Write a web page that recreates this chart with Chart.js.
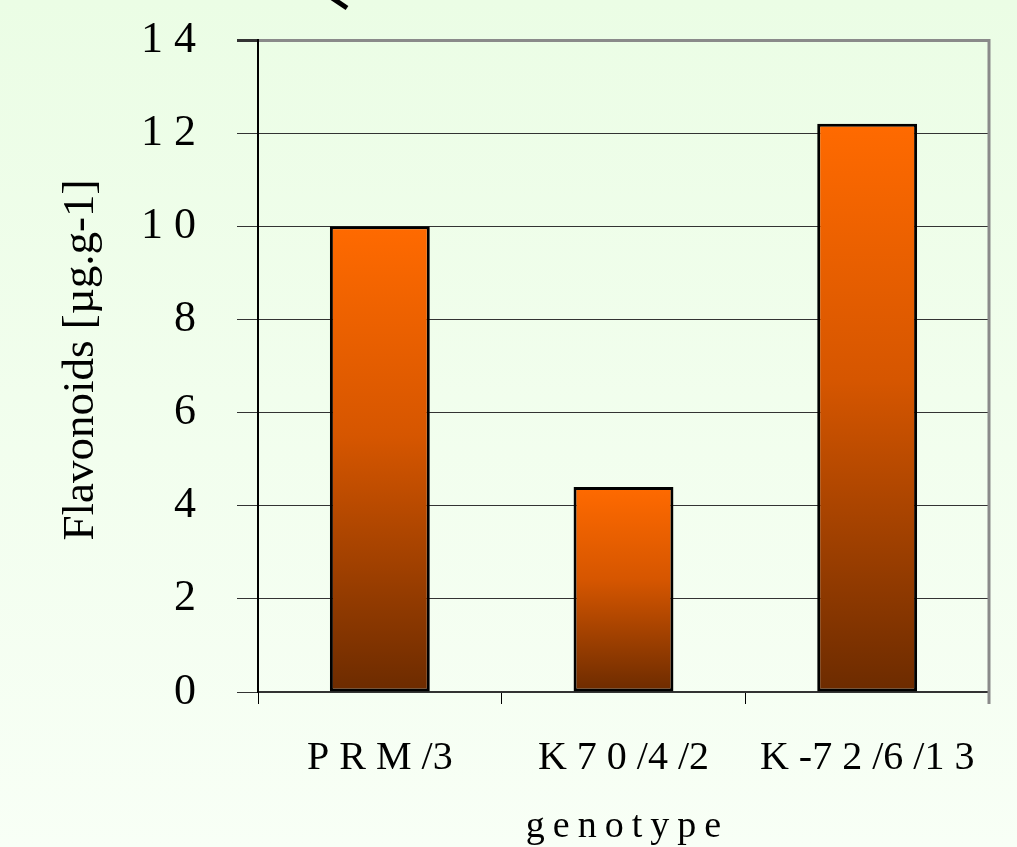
<!DOCTYPE html>
<html>
<head>
<meta charset="utf-8">
<script src="https://cdn.jsdelivr.net/npm/chart.js@4.4.1/dist/chart.umd.min.js"></script>
<style>
  html, body { margin: 0; padding: 0; }
  body { width: 1017px; height: 847px; background: linear-gradient(#ebfde5, #f8fff6); overflow: hidden; }
  #wrap { width: 1017px; height: 847px; position: relative; }
</style>
</head>
<body>
<div id="wrap"><canvas id="chart"></canvas></div>
<script>
// datos del grafico
const genotypes = ["P R M /3", "K 7 0 /4 /2", "K -7 2 /6 /1 3"];
const flavonoids = [10.0, 4.4, 12.2];
const yTickLabels = ["0", "2", "4", "6", "8", "1 0", "1 2", "1 4"];
const yTitle = "Flavonoids [µg.g-1]";
const xTitle = "genotype";

const serif = "'Liberation Serif', 'Times New Roman', serif";

// degradado naranja -> marron para cada barra
function barGradient(context) {
    const chart = context.chart;
    const area = chart.chartArea;
    if (!area || context.dataIndex === undefined) return "#e05a00";
    const yScale = chart.scales.y;
    const top = yScale.getPixelForValue(flavonoids[context.dataIndex]);
    const g = chart.ctx.createLinearGradient(0, top, 0, area.bottom);
    g.addColorStop(0, "#ff6a00");
    g.addColorStop(0.45, "#d65600");
    g.addColorStop(1, "#6c2b00");
    return g;
}

// titulos de ejes, borde derecho y marca superior
const extras = {
    id: "extras",
    afterDraw(chart) {
        const ctx = chart.ctx;
        const a = chart.chartArea;
        ctx.save();
        ctx.strokeStyle = "#8a8a8a";
        ctx.lineWidth = 3;
        ctx.beginPath();
        ctx.moveTo(a.right, a.top - 1);
        ctx.lineTo(a.right, a.bottom + 12);
        ctx.stroke();

        ctx.strokeStyle = "#000";
        ctx.lineWidth = 5;
        ctx.beginPath();
        ctx.moveTo(332, -2);
        ctx.lineTo(347, 8);
        ctx.stroke();

        ctx.fillStyle = "#000";
        ctx.font = "45px " + serif;
        ctx.textAlign = "center";
        ctx.textBaseline = "alphabetic";
        ctx.translate(93, 360);
        ctx.rotate(-Math.PI / 2);
        ctx.fillText(yTitle, 0, 0);
        ctx.restore();

        ctx.save();
        ctx.fillStyle = "#000";
        ctx.font = "38px " + serif;
        ctx.letterSpacing = "8px";
        ctx.textAlign = "center";
        ctx.textBaseline = "alphabetic";
        ctx.fillText(xTitle, (a.left + a.right) / 2 + 4, 837);
        ctx.restore();
    }
};

new Chart(document.getElementById("chart"), {
    type: "bar",
    data: {
        labels: genotypes,
        datasets: [{
            data: flavonoids,
            backgroundColor: barGradient,
            borderColor: "#000",
            borderWidth: 3,
            borderSkipped: false,
            barPercentage: 0.41,
            categoryPercentage: 1
        }]
    },
    options: {
        responsive: true,
        maintainAspectRatio: false,
        animation: false,
        layout: { padding: { top: 40, right: 28, left: 0, bottom: 0 } },
        plugins: {
            legend: { display: false },
            tooltip: { enabled: false }
        },
        scales: {
            x: {
                afterFit(scale) {
                    scale.height = 155;
                    scale.paddingLeft = 0;
                    scale.paddingRight = 0;
                },
                grid: {
                    offset: true,
                    drawOnChartArea: false,
                    tickLength: 12,
                    color: "#000",
                    lineWidth: 1
                },
                border: { color: "#333", width: 2 },
                ticks: {
                    autoSkip: false,
                    maxRotation: 0,
                    padding: 30,
                    color: "#000",
                    font: { family: serif, size: 40 }
                }
            },
            y: {
                min: 0,
                max: 14,
                afterFit(scale) {
                    scale.width = 258;
                    scale.paddingTop = 0;
                    scale.paddingBottom = 0;
                },
                grid: {
                    color: ctx => ctx.tick && ctx.tick.value === 14 ? "#8a8a8a" : "#333",
                    lineWidth: ctx => ctx.tick && ctx.tick.value === 14 ? 3 : 1,
                    tickColor: "#333",
                    tickLength: 21
                },
                border: { color: "#000", width: 2 },
                ticks: {
                    stepSize: 2,
                    padding: 41,
                    color: "#000",
                    font: { family: serif, size: 44 },
                    callback: (v, i) => yTickLabels[i]
                }
            }
        }
    },
    plugins: [extras]
});
</script>
</body>
</html>
